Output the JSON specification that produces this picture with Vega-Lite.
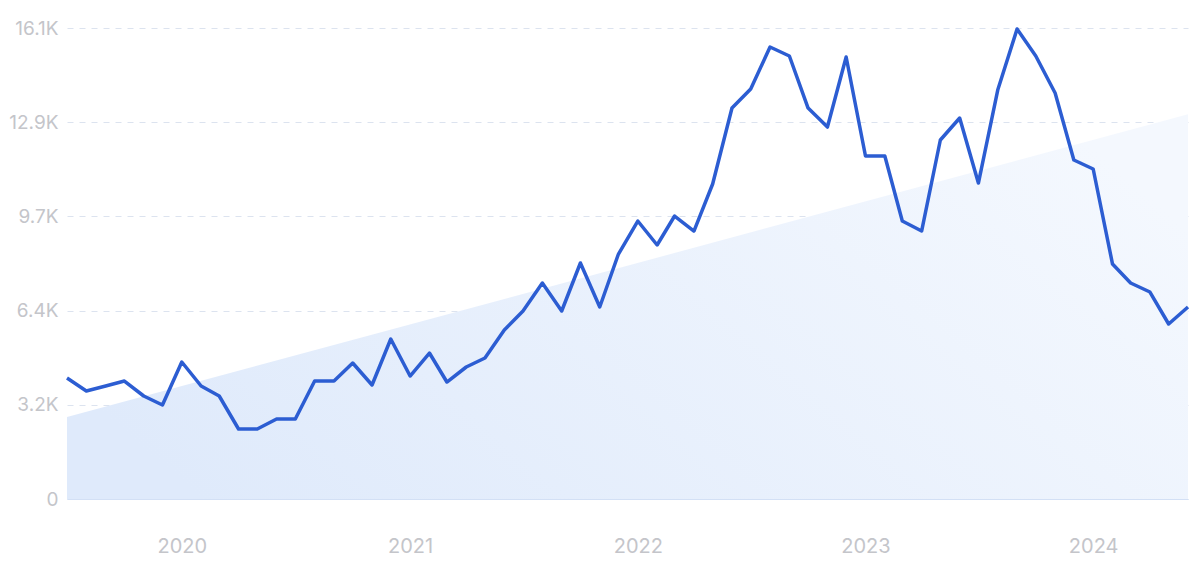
{
  "$schema": "https://vega.github.io/schema/vega-lite/v6.json",
  "width": 1121,
  "height": 471,
  "autosize": "none",
  "padding": {"left": 67, "top": 28, "right": 12, "bottom": 63},
  "background": "white",
  "config": {"view": {"stroke": null}, "font": "Inter"},
  "datasets": {
    "trend": [
      {"date": "2019-07-01", "value": 2800},
      {"date": "2024-06-01", "value": 13150}
    ],
    "series": [
      {"date": "2019-07-01", "value": 4136},
      {"date": "2019-08-01", "value": 3692},
      {"date": "2019-09-01", "value": 3862},
      {"date": "2019-10-01", "value": 4033},
      {"date": "2019-11-01", "value": 3521},
      {"date": "2019-12-01", "value": 3213},
      {"date": "2020-01-01", "value": 4683},
      {"date": "2020-02-01", "value": 3862},
      {"date": "2020-03-01", "value": 3521},
      {"date": "2020-04-01", "value": 2393},
      {"date": "2020-05-01", "value": 2393},
      {"date": "2020-06-01", "value": 2734},
      {"date": "2020-07-01", "value": 2734},
      {"date": "2020-08-01", "value": 4033},
      {"date": "2020-09-01", "value": 4033},
      {"date": "2020-10-01", "value": 4649},
      {"date": "2020-11-01", "value": 3897},
      {"date": "2020-12-01", "value": 5469},
      {"date": "2021-01-01", "value": 4204},
      {"date": "2021-02-01", "value": 4990},
      {"date": "2021-03-01", "value": 3999},
      {"date": "2021-04-01", "value": 4512},
      {"date": "2021-05-01", "value": 4820},
      {"date": "2021-06-01", "value": 5777},
      {"date": "2021-07-01", "value": 6426},
      {"date": "2021-08-01", "value": 7383},
      {"date": "2021-09-01", "value": 6426},
      {"date": "2021-10-01", "value": 8067},
      {"date": "2021-11-01", "value": 6563},
      {"date": "2021-12-01", "value": 8374},
      {"date": "2022-01-01", "value": 9502},
      {"date": "2022-02-01", "value": 8682},
      {"date": "2022-03-01", "value": 9673},
      {"date": "2022-04-01", "value": 9160},
      {"date": "2022-05-01", "value": 10767},
      {"date": "2022-06-01", "value": 13364},
      {"date": "2022-07-01", "value": 14014},
      {"date": "2022-08-01", "value": 15450},
      {"date": "2022-09-01", "value": 15142},
      {"date": "2022-10-01", "value": 13364},
      {"date": "2022-11-01", "value": 12715},
      {"date": "2022-12-01", "value": 15108},
      {"date": "2023-01-01", "value": 11724},
      {"date": "2023-02-01", "value": 11724},
      {"date": "2023-03-01", "value": 9502},
      {"date": "2023-04-01", "value": 9160},
      {"date": "2023-05-01", "value": 12271},
      {"date": "2023-06-01", "value": 13023},
      {"date": "2023-07-01", "value": 10801},
      {"date": "2023-08-01", "value": 13980},
      {"date": "2023-09-01", "value": 16065},
      {"date": "2023-10-01", "value": 15142},
      {"date": "2023-11-01", "value": 13877},
      {"date": "2023-12-01", "value": 11587},
      {"date": "2024-01-01", "value": 11280},
      {"date": "2024-02-01", "value": 8032},
      {"date": "2024-03-01", "value": 7383},
      {"date": "2024-04-01", "value": 7075},
      {"date": "2024-05-01", "value": 5982},
      {"date": "2024-06-01", "value": 6563}
    ]
  },
  "encoding": {
    "x": {
      "field": "date",
      "type": "temporal",
      "scale": {"domain": [{"year": 2019, "month": 7, "date": 1}, {"year": 2024, "month": 6, "date": 1}]},
      "axis": {
        "title": null,
        "values": [{"year": 2020, "month": 1, "date": 1}, {"year": 2021, "month": 1, "date": 1}, {"year": 2022, "month": 1, "date": 1}, {"year": 2023, "month": 1, "date": 1}, {"year": 2024, "month": 1, "date": 1}],
        "format": "%Y",
        "grid": false,
        "ticks": false,
        "domain": true,
        "domainColor": "#d3e0f5",
        "domainWidth": 1,
        "labelColor": "#c4c5ca",
        "labelFontSize": 20,
        "labelPadding": 37,
        "labelFont": "Inter"
      }
    },
    "y": {
      "field": "value",
      "type": "quantitative",
      "scale": {"domain": [0, 16100], "nice": false},
      "axis": {
        "title": null,
        "values": [0, 3220, 6440, 9660, 12880, 16100],
        "labelExpr": "datum.value == 0 ? '0' : format(datum.value / 1000, '.1f') + 'K'",
        "grid": true,
        "gridColor": "#dce3ef",
        "gridDash": [6, 6],
        "gridWidth": 1,
        "domain": false,
        "ticks": false,
        "labelColor": "#c4c5ca",
        "labelFontSize": 19,
        "labelPadding": 9,
        "labelFont": "Inter"
      }
    }
  },
  "layer": [
    {
      "data": {"name": "trend"},
      "mark": {
        "type": "area",
        "color": {
          "gradient": "linear",
          "x1": 0, "y1": 0.7, "x2": 1, "y2": 0.3,
          "stops": [
            {"offset": 0, "color": "#dfeafb"},
            {"offset": 1, "color": "#f4f8fe"}
          ]
        }
      }
    },
    {
      "data": {"name": "series"},
      "mark": {"type": "line", "color": "#2c5dd2", "strokeWidth": 3.5, "strokeJoin": "round"}
    }
  ]
}
